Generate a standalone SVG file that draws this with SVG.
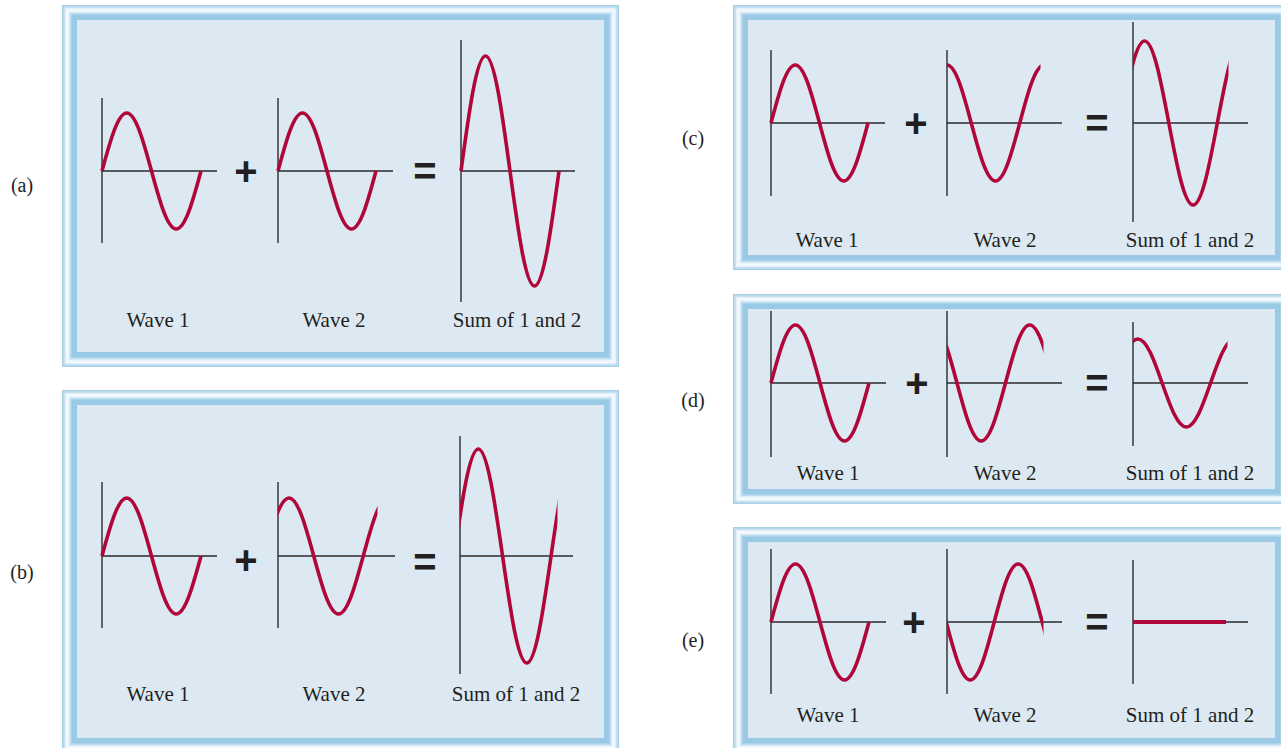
<svg xmlns="http://www.w3.org/2000/svg" width="1281" height="748" viewBox="0 0 1281 748">
<style>
.f0{fill:#a8d1e9}.f1{fill:#c6e2f2}.f2{fill:#e4f1f9}.f3{fill:#f8fbfd}.f4{fill:#d9ecf7}.f5{fill:#bcdcef}.f6{fill:#99c9e4}.f7{fill:#dce9f3}
.ax{stroke:#2b2b2b;stroke-width:1.4;fill:none}
.wv{stroke:#b0063a;stroke-width:3.6;fill:none;stroke-linecap:butt}
.lb{font-family:"Liberation Serif","Times New Roman",serif;font-size:21px;fill:#231f20;text-anchor:middle}
.op{font-family:"Liberation Sans",Arial,sans-serif;font-size:40px;font-weight:600;fill:#231f20;text-anchor:middle}
.pl{font-family:"Liberation Serif","Times New Roman",serif;font-size:20px;fill:#231f20;text-anchor:middle}
</style>
<defs>
<clipPath id="cb2" clipPathUnits="userSpaceOnUse"><rect x="278" y="420" width="99.5" height="280"/></clipPath>
<clipPath id="cbs" clipPathUnits="userSpaceOnUse"><rect x="460" y="420" width="97.5" height="280"/></clipPath>
<clipPath id="cc2" clipPathUnits="userSpaceOnUse"><rect x="947" y="30" width="93.5" height="200"/></clipPath>
<clipPath id="ccs" clipPathUnits="userSpaceOnUse"><rect x="1133" y="20" width="95.5" height="220"/></clipPath>
<clipPath id="cd2" clipPathUnits="userSpaceOnUse"><rect x="947" y="300" width="96.5" height="170"/></clipPath>
<clipPath id="cds" clipPathUnits="userSpaceOnUse"><rect x="1133" y="300" width="94.5" height="170"/></clipPath>
<clipPath id="ce2" clipPathUnits="userSpaceOnUse"><rect x="947" y="540" width="96.5" height="170"/></clipPath>
</defs>

<g id="panel-a">
<g id="frame-a">
<rect class="f0" x="62" y="5" width="557" height="362"/>
<rect class="f1" x="63.5" y="6.5" width="554" height="359"/>
<rect class="f2" x="65" y="8" width="551" height="356"/>
<rect class="f3" x="66.5" y="9.5" width="548" height="353"/>
<rect class="f4" x="68.5" y="11.5" width="544" height="349"/>
<rect class="f5" x="70" y="13" width="541" height="346"/>
<rect class="f6" x="71.5" y="14.5" width="538" height="343"/>
<rect class="f7" x="77" y="20" width="527" height="332"/>
</g>
<text class="pl" x="22" y="192">(a)</text>
<g id="a-wave1">
<path class="ax" d="M102,98V243M102,171H217"/>
<path class="wv" d="M102,171c8.07,-29.71 15.79,-58 24.75,-58 c8.96,0 16.68,28.29 24.75,58 c8.07,29.71 15.79,58 24.75,58 c8.96,0 16.68,-28.29 24.75,-58"/>
<text class="lb" x="158" y="327">Wave 1</text>
</g>
<text class="op" x="246" y="185">+</text>
<g id="a-wave2">
<path class="ax" d="M278,98V243M278,171H393"/>
<path class="wv" d="M278,171c7.99,-29.71 15.63,-58 24.5,-58 c8.87,0 16.51,28.29 24.5,58 c7.99,29.71 15.63,58 24.5,58 c8.87,0 16.51,-28.29 24.5,-58"/>
<text class="lb" x="334" y="327">Wave 2</text>
</g>
<text class="op" x="425" y="185">=</text>
<g id="a-sum">
<path class="ax" d="M461,40V302M461,171H575"/>
<path class="wv" d="M461,171c7.99,-58.91 15.63,-115 24.5,-115 c8.87,0 16.51,56.09 24.5,115 c7.99,58.91 15.63,115 24.5,115 c8.87,0 16.51,-56.09 24.5,-115"/>
<text class="lb" x="517" y="327">Sum of 1 and 2</text>
</g>
</g>

<g id="panel-b">
<g id="frame-b">
<rect class="f0" x="62" y="390" width="557" height="363"/>
<rect class="f1" x="63.5" y="391.5" width="554" height="360"/>
<rect class="f2" x="65" y="393" width="551" height="357"/>
<rect class="f3" x="66.5" y="394.5" width="548" height="354"/>
<rect class="f4" x="68.5" y="396.5" width="544" height="350"/>
<rect class="f5" x="70" y="398" width="541" height="347"/>
<rect class="f6" x="71.5" y="399.5" width="538" height="344"/>
<rect class="f7" x="77" y="405" width="527" height="333"/>
</g>
<text class="pl" x="22" y="579">(b)</text>
<g id="b-wave1">
<path class="ax" d="M102,482V628M102,556H217"/>
<path class="wv" d="M102,556c8.07,-29.71 15.79,-58 24.75,-58 c8.96,0 16.68,28.29 24.75,58 c8.07,29.71 15.79,58 24.75,58 c8.96,0 16.68,-28.29 24.75,-58"/>
<text class="lb" x="158" y="701">Wave 1</text>
</g>
<text class="op" x="246" y="574">+</text>
<g id="b-wave2">
<path class="ax" d="M278,482V628M278,556H395"/>
<g clip-path="url(#cb2)">
<path class="wv" d="M264.25,556c8.07,-29.71 15.79,-58 24.75,-58 c8.96,0 16.68,28.29 24.75,58 c8.07,29.71 15.79,58 24.75,58 c8.96,0 16.68,-28.29 24.75,-58 c8.07,-29.71 15.79,-58 24.75,-58 c8.96,0 16.68,28.29 24.75,58"/>
</g>
<text class="lb" x="334" y="701">Wave 2</text>
</g>
<text class="op" x="425" y="576">=</text>
<g id="b-sum">
<path class="ax" d="M460,436V674M460,556H573"/>
<g clip-path="url(#cbs)">
<path class="wv" d="M454.07,556c7.91,-54.82 15.47,-107 24.25,-107 c8.78,0 16.34,52.18 24.25,107 c7.91,54.82 15.47,107 24.25,107 c8.78,0 16.34,-52.18 24.25,-107 c7.91,-54.82 15.47,-107 24.25,-107"/>
</g>
<text class="lb" x="516" y="701">Sum of 1 and 2</text>
</g>
</g>

<g id="panel-c">
<g id="frame-c">
<rect class="f0" x="733" y="5" width="557" height="265"/>
<rect class="f1" x="734.5" y="6.5" width="554" height="262"/>
<rect class="f2" x="736" y="8" width="551" height="259"/>
<rect class="f3" x="737.5" y="9.5" width="548" height="256"/>
<rect class="f4" x="739.5" y="11.5" width="544" height="252"/>
<rect class="f5" x="741" y="13" width="541" height="249"/>
<rect class="f6" x="742.5" y="14.5" width="538" height="246"/>
<rect class="f7" x="748" y="20" width="527" height="235"/>
</g>
<text class="pl" x="693" y="145">(c)</text>
<g id="c-wave1">
<path class="ax" d="M771,50V196M771,123H885"/>
<path class="wv" d="M771,123c7.91,-29.71 15.47,-58 24.25,-58 c8.78,0 16.34,28.29 24.25,58 c7.91,29.71 15.47,58 24.25,58 c8.78,0 16.34,-28.29 24.25,-58"/>
<text class="lb" x="827" y="247">Wave 1</text>
</g>
<text class="op" x="916" y="137">+</text>
<g id="c-wave2">
<path class="ax" d="M947,50V196M947,123H1062"/>
<g clip-path="url(#cc2)">
<path class="wv" d="M922.75,123c7.91,-29.71 15.47,-58 24.25,-58 c8.78,0 16.34,28.29 24.25,58 c7.91,29.71 15.47,58 24.25,58 c8.78,0 16.34,-28.29 24.25,-58 c7.91,-29.71 15.47,-58 24.25,-58 c8.78,0 16.34,28.29 24.25,58"/>
</g>
<text class="lb" x="1005" y="247">Wave 2</text>
</g>
<text class="op" x="1097" y="137">=</text>
<g id="c-sum">
<path class="ax" d="M1133,22V222M1133,123H1248"/>
<g clip-path="url(#ccs)">
<path class="wv" d="M1120.34,123c7.91,-42.01 15.47,-82 24.25,-82 c8.78,0 16.34,39.99 24.25,82 c7.91,42.01 15.47,82 24.25,82 c8.78,0 16.34,-39.99 24.25,-82 c7.91,-42.01 15.47,-82 24.25,-82"/>
</g>
<text class="lb" x="1190" y="247">Sum of 1 and 2</text>
</g>
</g>

<g id="panel-d">
<g id="frame-d">
<rect class="f0" x="733" y="294" width="557" height="210"/>
<rect class="f1" x="734.5" y="295.5" width="554" height="207"/>
<rect class="f2" x="736" y="297" width="551" height="204"/>
<rect class="f3" x="737.5" y="298.5" width="548" height="201"/>
<rect class="f4" x="739.5" y="300.5" width="544" height="197"/>
<rect class="f5" x="741" y="302" width="541" height="194"/>
<rect class="f6" x="742.5" y="303.5" width="538" height="191"/>
<rect class="f7" x="748" y="309" width="527" height="180"/>
</g>
<text class="pl" x="693" y="407">(d)</text>
<g id="d-wave1">
<path class="ax" d="M771,311V457M771,383H886"/>
<path class="wv" d="M771,383c7.99,-29.71 15.63,-58 24.5,-58 c8.87,0 16.51,28.29 24.5,58 c7.99,29.71 15.63,58 24.5,58 c8.87,0 16.51,-28.29 24.5,-58"/>
<text class="lb" x="828" y="480">Wave 1</text>
</g>
<text class="op" x="917" y="397">+</text>
<g id="d-wave2">
<path class="ax" d="M947,311V457M947,383H1062"/>
<g clip-path="url(#cd2)">
<path class="wv" d="M908.47,383c7.91,-29.71 15.47,-58 24.25,-58 c8.78,0 16.34,28.29 24.25,58 c7.91,29.71 15.47,58 24.25,58 c8.78,0 16.34,-28.29 24.25,-58 c7.91,-29.71 15.47,-58 24.25,-58 c8.78,0 16.34,28.29 24.25,58 c7.91,29.71 15.47,58 24.25,58"/>
</g>
<text class="lb" x="1005" y="480">Wave 2</text>
</g>
<text class="op" x="1097" y="397">=</text>
<g id="d-sum">
<path class="ax" d="M1133,322V446M1133,383H1248"/>
<g clip-path="url(#cds)">
<path class="wv" d="M1113.6,383c7.91,-22.54 15.47,-44 24.25,-44 c8.78,0 16.34,21.46 24.25,44 c7.91,22.54 15.47,44 24.25,44 c8.78,0 16.34,-21.46 24.25,-44 c7.91,-22.54 15.47,-44 24.25,-44"/>
</g>
<text class="lb" x="1190" y="480">Sum of 1 and 2</text>
</g>
</g>

<g id="panel-e">
<g id="frame-e">
<rect class="f0" x="733" y="527" width="557" height="226"/>
<rect class="f1" x="734.5" y="528.5" width="554" height="223"/>
<rect class="f2" x="736" y="530" width="551" height="220"/>
<rect class="f3" x="737.5" y="531.5" width="548" height="217"/>
<rect class="f4" x="739.5" y="533.5" width="544" height="213"/>
<rect class="f5" x="741" y="535" width="541" height="210"/>
<rect class="f6" x="742.5" y="536.5" width="538" height="207"/>
<rect class="f7" x="748" y="542" width="527" height="196"/>
</g>
<text class="pl" x="693" y="647">(e)</text>
<g id="e-wave1">
<path class="ax" d="M771,549V694M771,622H886"/>
<path class="wv" d="M771,622c7.99,-29.71 15.63,-58 24.5,-58 c8.87,0 16.51,28.29 24.5,58 c7.99,29.71 15.63,58 24.5,58 c8.87,0 16.51,-28.29 24.5,-58"/>
<text class="lb" x="828" y="722">Wave 1</text>
</g>
<text class="op" x="914" y="636">+</text>
<g id="e-wave2">
<path class="ax" d="M947,549V694M947,622H1062"/>
<g clip-path="url(#ce2)">
<path class="wv" d="M898.2,622c7.83,-29.71 15.31,-58 24,-58 c8.69,0 16.17,28.29 24,58 c7.83,29.71 15.31,58 24,58 c8.69,0 16.17,-28.29 24,-58 c7.83,-29.71 15.31,-58 24,-58 c8.69,0 16.17,28.29 24,58 c7.83,29.71 15.31,58 24,58"/>
</g>
<text class="lb" x="1005" y="722">Wave 2</text>
</g>
<text class="op" x="1097" y="636">=</text>
<g id="e-sum">
<path class="ax" d="M1133,560V684M1133,622H1248"/>
<path class="wv" d="M1133,622H1226" style="stroke-width:4"/>
<text class="lb" x="1190" y="722">Sum of 1 and 2</text>
</g>
</g>
</svg>
